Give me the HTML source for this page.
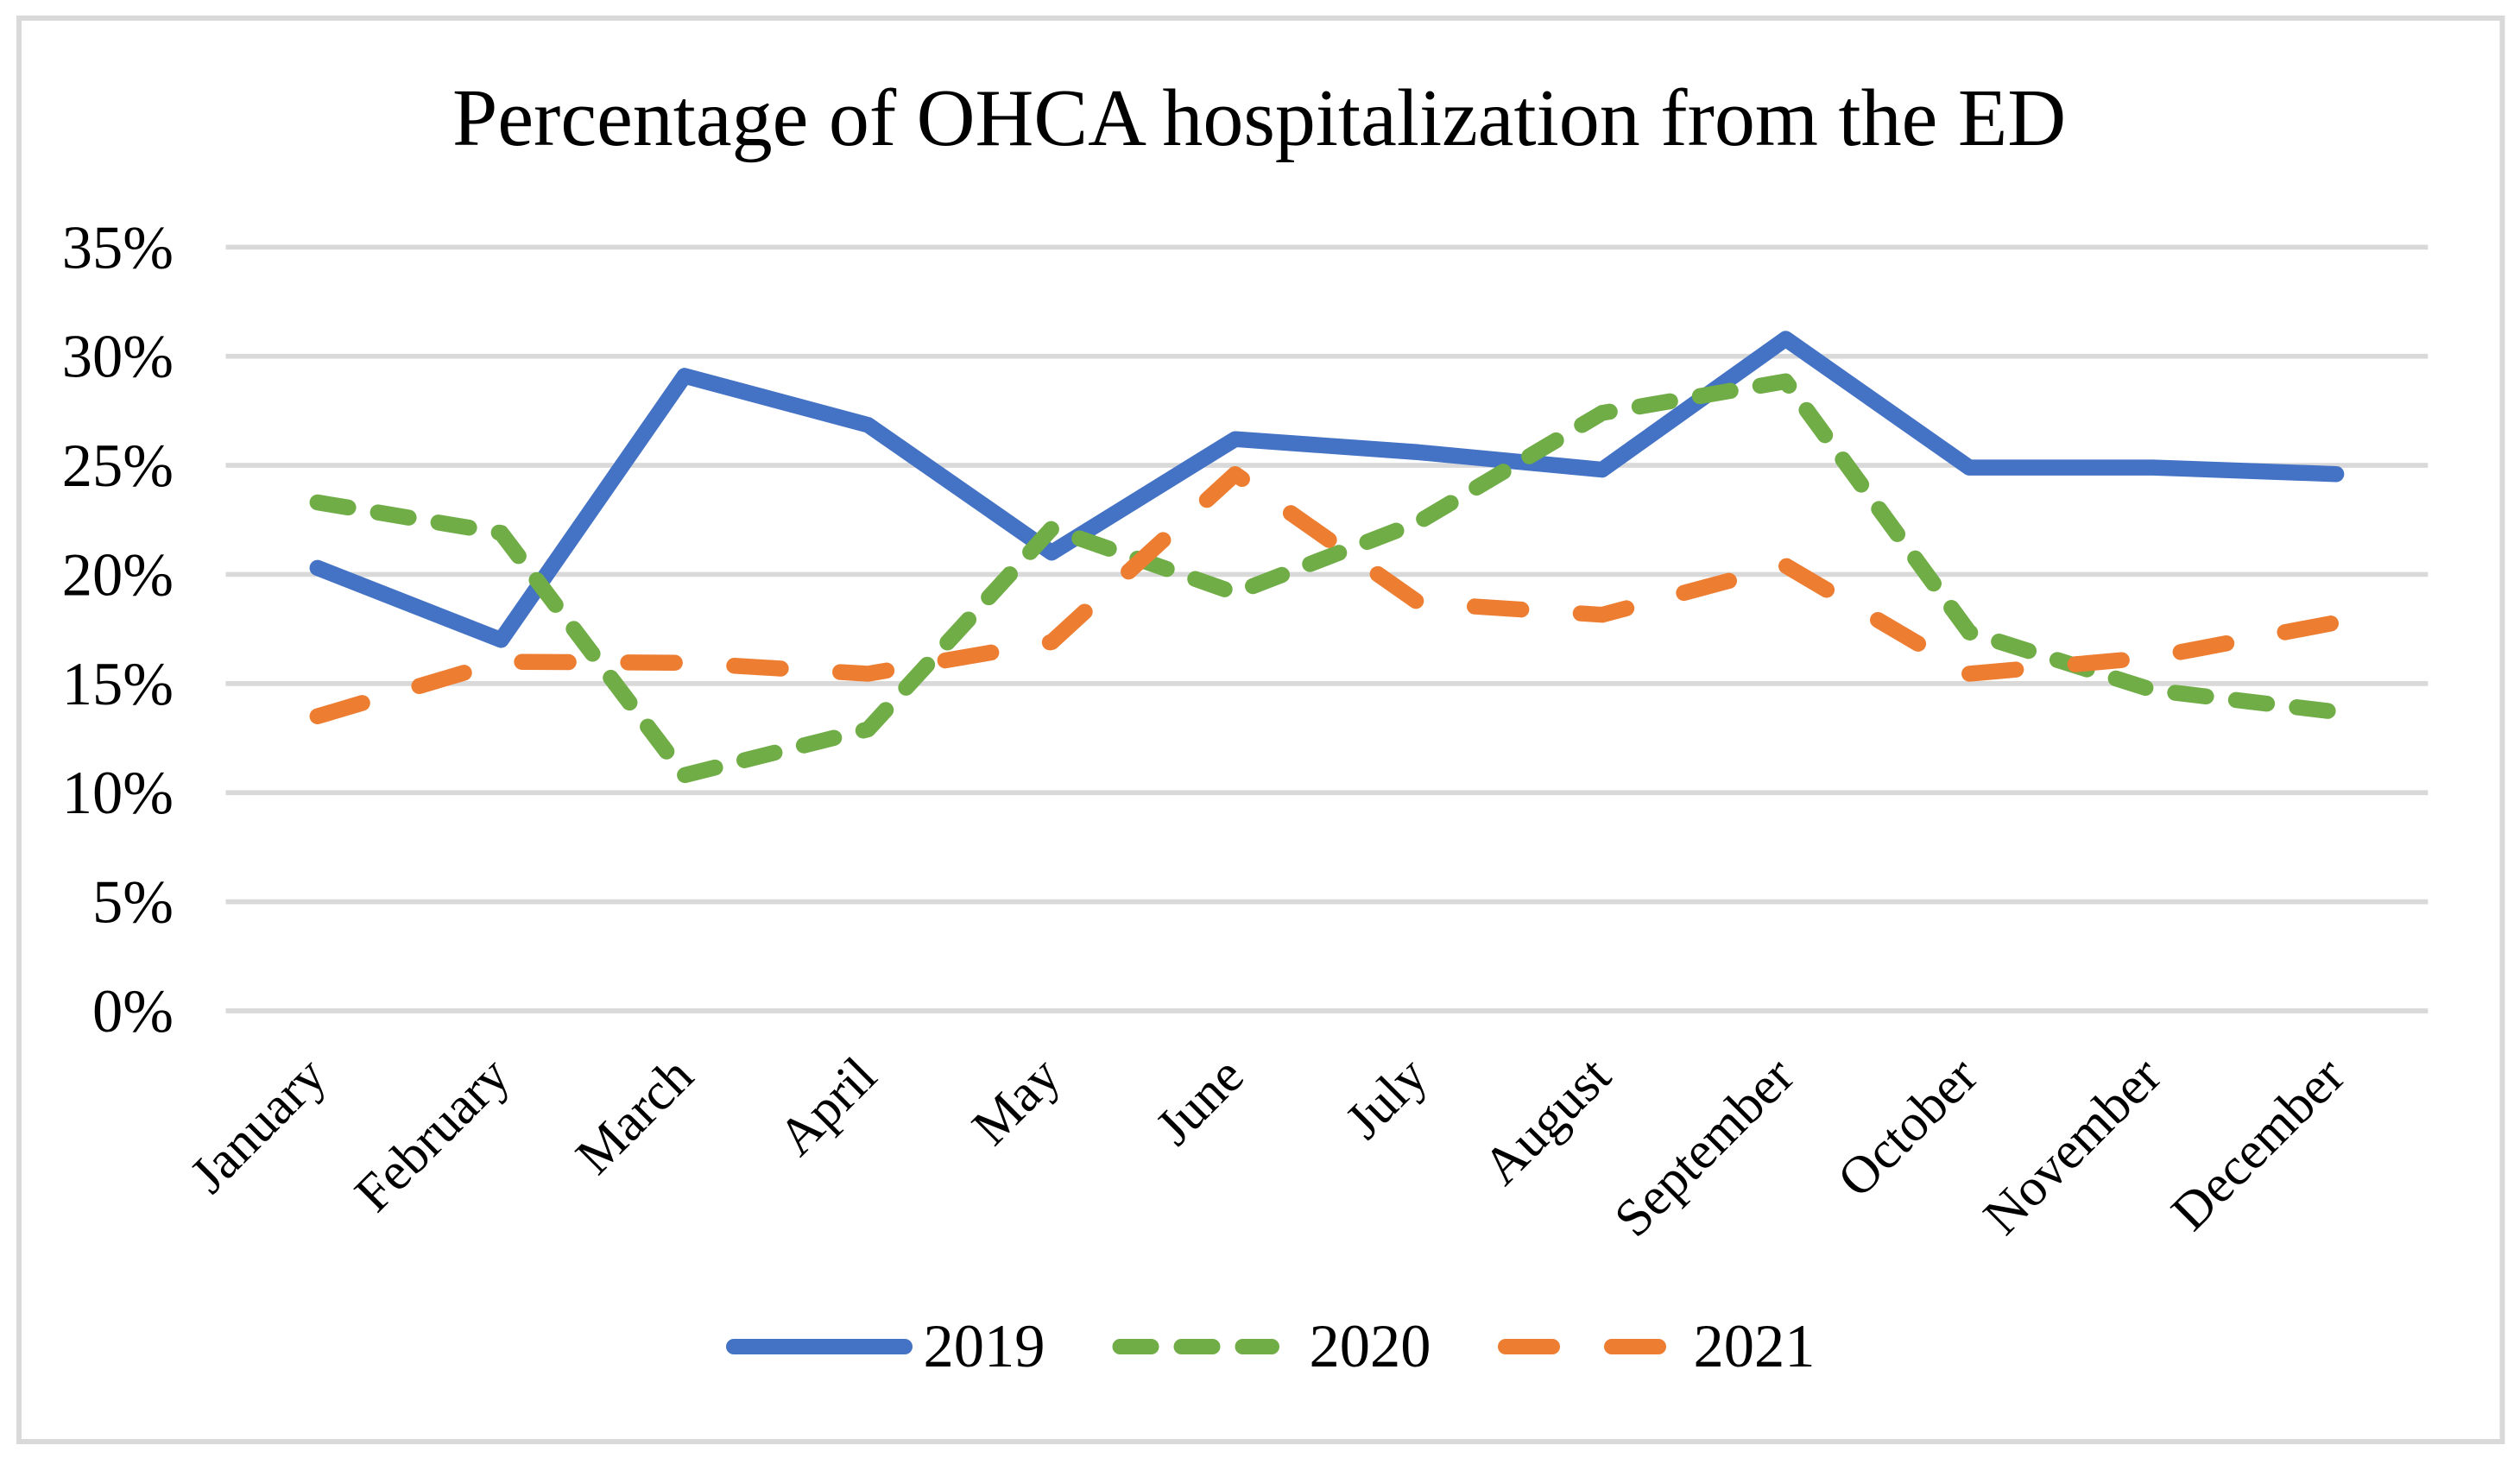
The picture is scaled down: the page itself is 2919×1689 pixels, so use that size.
<!DOCTYPE html>
<html lang="en">
<head>
<meta charset="utf-8">
<title>Percentage of OHCA hospitalization from the ED</title>
<style>
html,body{margin:0;padding:0;background:#fff;}
svg{display:block;font-family:"Liberation Serif",serif;fill:#000;}
</style>
</head>
<body>
<svg id="chart" xmlns="http://www.w3.org/2000/svg" width="2919" height="1689" viewBox="0 0 2919 1689">
<rect x="0" y="0" width="2919" height="1689" fill="#fff"/>
<rect x="22" y="21" width="2876.5" height="1649" fill="#fff" stroke="#d9d9d9" stroke-width="6"/>
<text x="1458.6" y="168" font-size="94" text-anchor="middle">Percentage of OHCA hospitalization from the ED</text>
<g id="grid"></g>
<g id="ylabels"></g>
<g id="xlabels"></g>
<g id="lines"></g>
<g id="legend"></g>
</svg>
<script>
const categories = ["January","February","March","April","May","June","July","August","September","October","November","December"];
const yTicks = [0,5,10,15,20,25,30,35];
const seriesNames = ["2019","2020","2021"];
const values2019 = [20.3,17.0,29.1,26.85,21.0,26.2,25.6,24.8,30.8,24.9,24.9,24.6];
const values2020 = [23.3,21.9,10.8,12.9,22.1,19.15,22.4,27.4,28.85,17.35,14.7,13.7];
const values2021 = [13.5,16.0,15.95,15.45,16.9,24.6,18.7,18.15,20.4,15.45,16.2,17.8];

const NS = "http://www.w3.org/2000/svg";
const plot = {left:261.5,right:2812.4,top:286.3,bottom:1171};
const yMax = 35;
function xScale(i){ return plot.left + (i + 0.5) * (plot.right - plot.left) / categories.length; }
function yScale(v){ return plot.bottom - v / yMax * (plot.bottom - plot.top); }
function make(tag, attrs, parent){
  const el = document.createElementNS(NS, tag);
  for (const k in attrs) el.setAttribute(k, attrs[k]);
  parent.appendChild(el);
  return el;
}
const gridG = document.getElementById('grid');
const yG = document.getElementById('ylabels');
const xG = document.getElementById('xlabels');
const linesG = document.getElementById('lines');
const legendG = document.getElementById('legend');

yTicks.forEach(function(t){
  const line = make('line',{x1:plot.left,x2:plot.right,y1:yScale(t),y2:yScale(t),stroke:'#d9d9d9','stroke-width':5.7},gridG);
  
  
  const label = make('text',{x:201,y:yScale(t)+24,'font-size':70.5,'text-anchor':'end'},yG);
  label.textContent = t + '%';
  
  
});

categories.forEach(function(c,i){
  const px = xScale(i) + 13;
  const py = 1250;
  const label = make('text',{x:px,y:py,'font-size':61.5,'text-anchor':'end',transform:'rotate(-45 '+px+' '+py+')'},xG);
  label.textContent = c;
  
  
});

const seriesValues = [values2019, values2020, values2021];
const seriesColors = ['#4472c4','#70ad47','#ed7d31'];
const seriesDash = ['none','36 35','54 69'];
const legendLineX = [[850,1048],[1297.5,1473],[1744,1921]];
const legendTextX = [1069.5,1516.5,1961.5];

seriesValues.forEach(function(vals,s){
  const pts = vals.map(function(v,i){ return xScale(i).toFixed(1) + ',' + yScale(v).toFixed(1); }).join(' ');
  const line = make('polyline',{points:pts,fill:'none',stroke:seriesColors[s],'stroke-width':18.5,'stroke-linecap':'round','stroke-linejoin':'round','stroke-dasharray':seriesDash[s]},linesG);
  
  

  const key = make('line',{x1:legendLineX[s][0],x2:legendLineX[s][1],y1:1560,y2:1560,stroke:seriesColors[s],'stroke-width':18,'stroke-linecap':'round','stroke-dasharray':seriesDash[s]},legendG);
  
  
  const txt = make('text',{x:legendTextX[s],y:1583,'font-size':70.5},legendG);
  txt.textContent = seriesNames[s];
  
  
});
</script>
</body>
</html>
